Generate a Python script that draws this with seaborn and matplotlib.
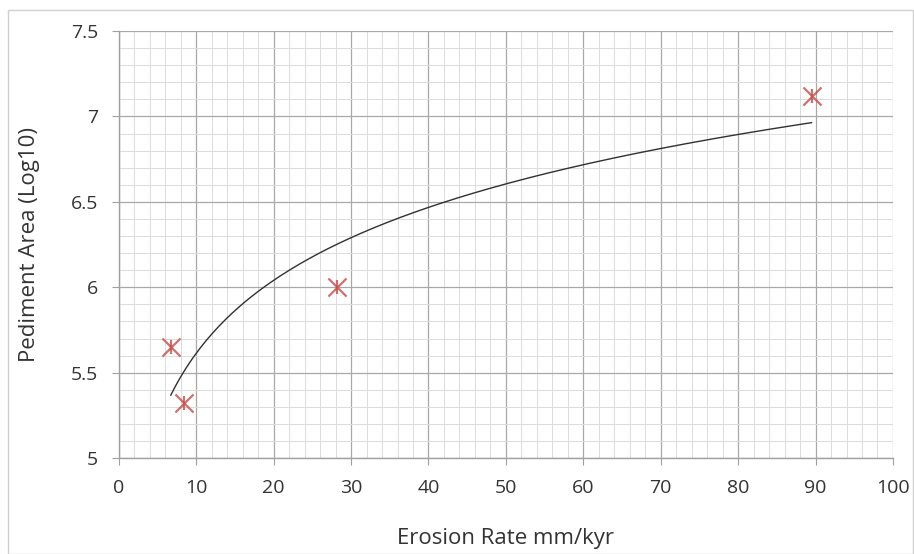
import numpy as np
import pandas as pd
import matplotlib
matplotlib.use("Agg")
import matplotlib.pyplot as plt
import seaborn as sns
from matplotlib.ticker import MultipleLocator

# data
erosion_rate = [6.7, 8.4, 28.2, 89.5]
pediment_area = [5.65, 5.32, 6.0, 7.12]

df = pd.DataFrame({"Erosion Rate": erosion_rate, "Pediment Area": pediment_area})

sns.set_style("white")
plt.rcParams["font.family"] = ["Open Sans", "DejaVu Sans"]

fig = plt.figure(figsize=(9.14, 5.54), dpi=100)
ax = fig.add_axes([0.130, 0.173, 0.847, 0.771])

# chart-area border like excel
fig.patches.append(plt.Rectangle((0.009, 0.0), 0.99, 0.982, transform=fig.transFigure,
                                 fill=False, edgecolor="#d0d0d0", linewidth=1.0))

# logarithmic trendline
a, b = np.polyfit(np.log(df["Erosion Rate"]), df["Pediment Area"], 1)
xs = np.linspace(min(erosion_rate), max(erosion_rate), 200)
trend = pd.DataFrame({"x": xs, "y": a * np.log(xs) + b})
sns.lineplot(data=trend, x="x", y="y", color="#303030", linewidth=1.0, ax=ax, zorder=3)

# star marker (x plus vertical bar)
red = "#c0504d"
sns.scatterplot(data=df, x="Erosion Rate", y="Pediment Area", marker="x", s=170,
                color=red, linewidth=1.6, alpha=0.8, ax=ax, zorder=4)
sns.scatterplot(data=df, x="Erosion Rate", y="Pediment Area", marker="|", s=110,
                color=red, linewidth=1.6, alpha=0.8, ax=ax, zorder=4)

ax.set_xlim(0, 100)
ax.set_ylim(5, 7.5)
ax.xaxis.set_major_locator(MultipleLocator(10))
ax.xaxis.set_minor_locator(MultipleLocator(2))
ax.yaxis.set_major_locator(MultipleLocator(0.5))
ax.yaxis.set_minor_locator(MultipleLocator(0.1))
ax.set_yticks([5, 5.5, 6, 6.5, 7, 7.5])
ax.set_yticklabels(["5", "5.5", "6", "6.5", "7", "7.5"])

ax.grid(which="major", color="#a8a8a8", linewidth=0.9)
ax.grid(which="minor", color="#dcdcdc", linewidth=0.7)
ax.set_axisbelow(True)

for side in ["top", "right"]:
    ax.spines[side].set_visible(False)
for side in ["left", "bottom"]:
    ax.spines[side].set_color("#a0a0a0")
    ax.spines[side].set_linewidth(1.0)

ax.tick_params(which="major", direction="out", length=5, color="#a0a0a0",
               labelsize=14, labelcolor="#333333", pad=10,
               bottom=True, left=True)
ax.tick_params(which="minor", length=0)

ax.set_xlabel("Erosion Rate mm/kyr", fontsize=16, color="#333333", labelpad=22)
ax.set_ylabel("Pediment Area (Log10)", fontsize=16, color="#333333", labelpad=22)

fig.savefig("out.png", dpi=100)
